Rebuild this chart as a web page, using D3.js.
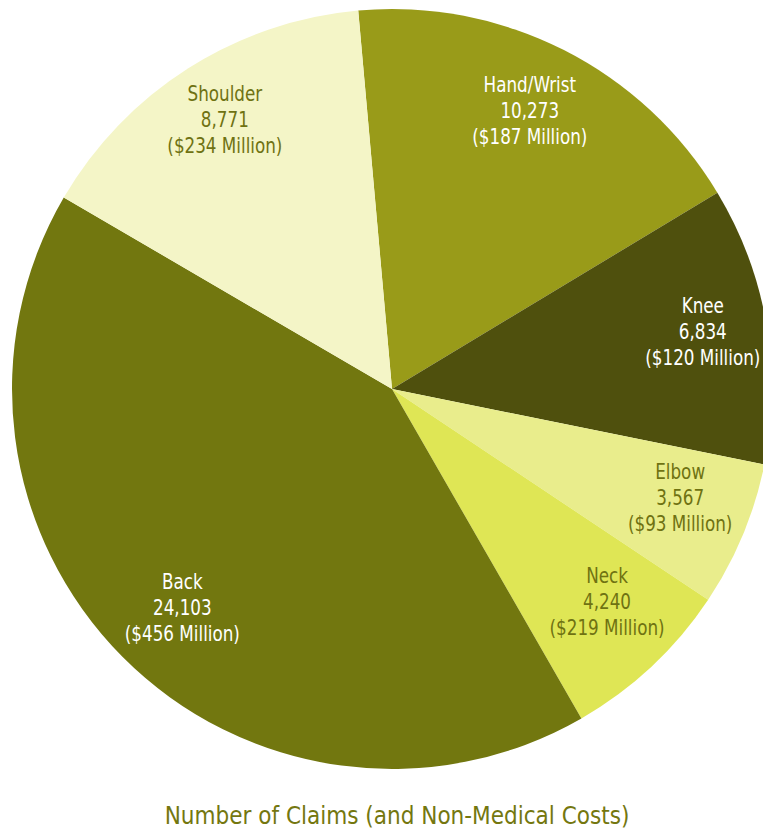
<!DOCTYPE html>
<html>
<head>
<meta charset="utf-8">
<script src="https://cdn.jsdelivr.net/npm/d3@7"></script>
<style>
  html, body { margin: 0; padding: 0; background: #ffffff; }
  svg { display: block; }
  text { font-family: "DejaVu Sans Condensed", "Liberation Sans Narrow", "Roboto", sans-serif; }
</style>
</head>
<body>
<svg id="chart" width="763" height="829"></svg>
<script>
// Body parts, clockwise from the top
const parts = ["Hand/Wrist", "Knee", "Elbow", "Neck", "Back", "Shoulder"];
const claims = [10273, 6834, 3567, 4240, 24103, 8771];
const costsMillion = [187, 120, 93, 219, 456, 234];
const fills = ["#999b19", "#4f500d", "#e9ed8c", "#dfe655", "#72770f", "#f4f5c7"];
const labelInk = ["#ffffff", "#ffffff", "#6f7212", "#6f7212", "#ffffff", "#6f7212"];
const title = "Number of Claims (and Non-Medical Costs)";

const svg = d3.select("#chart");
const cx = 392, cy = 389, radius = 380;
// label block placement: distance from the centre and a small turn off the slice's mid-angle
const labelRadius = [311, 316, 308, 302, 303, 317];
const labelTurnDeg = [-0.6, -0.6, -1.9, -2.3, -1.4, 0.6];

const rows = parts.map((p, i) => ({
  part: p, claims: claims[i], cost: costsMillion[i],
  fill: fills[i], ink: labelInk[i], lr: labelRadius[i], turn: labelTurnDeg[i]
}));

const start = -5.1 * Math.PI / 180;
const pie = d3.pie()
  .value(d => d.claims)
  .sort(null)
  .startAngle(start)
  .endAngle(2 * Math.PI + start);

const arc = d3.arc().innerRadius(0).outerRadius(radius);

const g = svg.append("g").attr("transform", `translate(${cx},${cy})`);
const slices = pie(rows);

g.selectAll("path.slice")
  .data(slices)
  .join("path")
  .attr("class", "slice")
  .attr("d", arc)
  .attr("fill", d => d.data.fill);

const fmt = d3.format(",");
const labels = g.selectAll("text.lbl")
  .data(slices)
  .join("text")
  .attr("class", "lbl")
  .attr("transform", d => {
    const a = (d.startAngle + d.endAngle) / 2 + d.data.turn * Math.PI / 180;
    const x = d.data.lr * Math.sin(a), y = -d.data.lr * Math.cos(a);
    return `translate(${x},${y}) scale(0.91,1)`;
  })
  .attr("text-anchor", "middle")
  .attr("fill", d => d.data.ink)
  .style("font-size", "20.5px");

labels.each(function(d) {
  const t = d3.select(this);
  const lines = [d.data.part, fmt(d.data.claims), `($${d.data.cost} Million)`];
  lines.forEach((s, k) => {
    t.append("tspan")
      .attr("x", 0)
      .attr("y", (k - 1) * 26 + 7.5)
      .text(s);
  });
});

svg.append("text")
  .attr("x", 397)
  .attr("y", 824)
  .attr("text-anchor", "middle")
  .attr("fill", "#74770f")
  .style("font-size", "24px")
  .text(title);
</script>
</body>
</html>
